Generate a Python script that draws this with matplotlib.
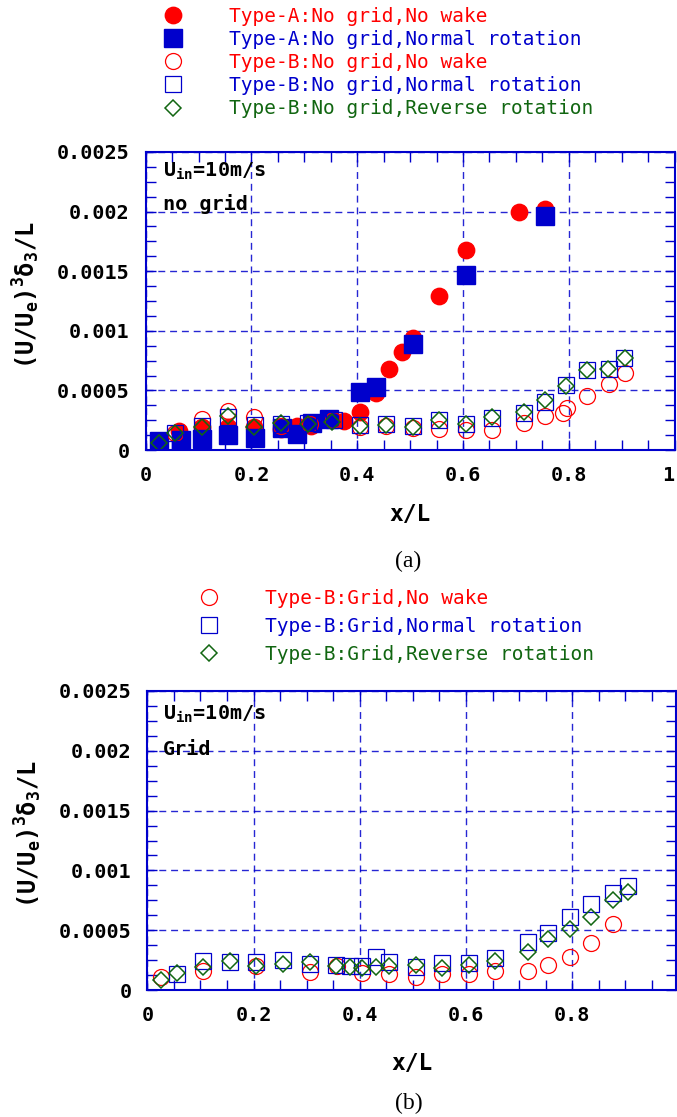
import matplotlib
matplotlib.use("Agg")
import matplotlib.pyplot as plt
from matplotlib.lines import Line2D
from matplotlib.ticker import MultipleLocator, FixedLocator, FuncFormatter

plt.rcParams["font.family"] = "DejaVu Sans Mono"
plt.rcParams["mathtext.fontset"] = "custom"
plt.rcParams["mathtext.rm"] = "DejaVu Sans Mono:bold"
plt.rcParams["mathtext.it"] = "DejaVu Sans Mono:bold"
plt.rcParams["mathtext.bf"] = "DejaVu Sans Mono:bold"
plt.rcParams["mathtext.default"] = "rm"

# ---- (a) no grid ----
xa_nw = [0.063, 0.106, 0.155, 0.205, 0.255, 0.286, 0.313, 0.350, 0.375, 0.406,
         0.436, 0.460, 0.485, 0.506, 0.554, 0.605, 0.705, 0.756]
ya_nw = [1.6e-4, 1.9e-4, 1.95e-4, 1.95e-4, 1.8e-4, 2.05e-4, 2.0e-4, 2.6e-4, 2.43e-4, 3.2e-4,
         4.75e-4, 6.76e-4, 8.2e-4, 9.36e-4, 1.29e-3, 1.68e-3, 2.0e-3, 2.02e-3]

xa_nr = [0.026, 0.066, 0.106, 0.155, 0.206, 0.257, 0.286, 0.314, 0.347, 0.406,
         0.435, 0.506, 0.605, 0.756]
ya_nr = [7.5e-5, 8.5e-5, 9e-5, 1.26e-4, 1.0e-4, 1.85e-4, 1.37e-4, 2.27e-4, 2.6e-4, 4.9e-4,
         5.25e-4, 8.9e-4, 1.47e-3, 1.96e-3]

xb_nw = [0.056, 0.106, 0.155, 0.205, 0.255, 0.310, 0.355, 0.406, 0.455, 0.506,
         0.555, 0.605, 0.655, 0.715, 0.756, 0.789, 0.796, 0.835, 0.876, 0.906]
yb_nw = [1.4e-4, 2.6e-4, 3.25e-4, 2.8e-4, 2.05e-4, 2.15e-4, 2.5e-4, 1.9e-4, 2.0e-4, 1.85e-4,
         1.72e-4, 1.7e-4, 1.65e-4, 2.3e-4, 2.85e-4, 3.1e-4, 3.55e-4, 4.5e-4, 5.55e-4, 6.5e-4]

xb_nr = [0.056, 0.106, 0.155, 0.206, 0.255, 0.306, 0.356, 0.406, 0.455, 0.506,
         0.555, 0.605, 0.655, 0.715, 0.756, 0.794, 0.835, 0.876, 0.905]
yb_nr = [1.4e-4, 2.0e-4, 2.8e-4, 2.1e-4, 2.2e-4, 2.23e-4, 2.5e-4, 2.1e-4, 2.2e-4, 2.0e-4,
         2.5e-4, 2.22e-4, 2.65e-4, 3.1e-4, 4.05e-4, 5.45e-4, 6.7e-4, 6.82e-4, 7.7e-4]

xb_rr = [0.026, 0.056, 0.106, 0.155, 0.205, 0.255, 0.306, 0.353, 0.406, 0.455,
         0.506, 0.555, 0.605, 0.655, 0.715, 0.756, 0.794, 0.835, 0.875, 0.906]
yb_rr = [6e-5, 1.4e-4, 1.95e-4, 2.85e-4, 1.9e-4, 2.3e-4, 2.2e-4, 2.37e-4, 2.04e-4, 2.1e-4,
         1.95e-4, 2.5e-4, 2.2e-4, 2.74e-4, 3.2e-4, 4.2e-4, 5.4e-4, 6.7e-4, 6.76e-4, 7.7e-4]

# ---- (b) grid ----
xg_nw = [0.025, 0.104, 0.205, 0.306, 0.357, 0.405, 0.455, 0.505, 0.555, 0.605,
         0.655, 0.716, 0.755, 0.796, 0.836, 0.876]
yg_nw = [1.12e-4, 1.62e-4, 2.0e-4, 1.54e-4, 2.0e-4, 1.4e-4, 1.34e-4, 1.12e-4, 1.34e-4, 1.34e-4,
         1.62e-4, 1.6e-4, 2.1e-4, 2.74e-4, 3.9e-4, 5.5e-4]

xg_nr = [0.056, 0.105, 0.155, 0.205, 0.255, 0.306, 0.355, 0.382, 0.405, 0.431,
         0.455, 0.505, 0.555, 0.605, 0.655, 0.716, 0.755, 0.796, 0.836, 0.876, 0.906]
yg_nr = [1.3e-4, 2.43e-4, 2.3e-4, 2.35e-4, 2.5e-4, 2.15e-4, 2.1e-4, 2.0e-4, 2.0e-4, 2.74e-4,
         2.3e-4, 1.96e-4, 2.23e-4, 2.23e-4, 2.65e-4, 4.05e-4, 4.75e-4, 6.1e-4, 7.2e-4, 8.1e-4, 8.66e-4]

xg_rr = [0.026, 0.056, 0.105, 0.155, 0.205, 0.255, 0.306, 0.355, 0.382, 0.405,
         0.431, 0.455, 0.505, 0.555, 0.605, 0.655, 0.716, 0.755, 0.796, 0.836, 0.876, 0.906]
yg_rr = [8.4e-5, 1.45e-4, 1.9e-4, 2.46e-4, 2.04e-4, 2.15e-4, 2.3e-4, 2.0e-4, 1.96e-4, 1.8e-4,
         1.9e-4, 2.0e-4, 2.1e-4, 1.8e-4, 2.1e-4, 2.46e-4, 3.2e-4, 4.25e-4, 5.08e-4, 6.1e-4, 7.54e-4, 8.16e-4]

labels_a = ["Type-A:No grid,No wake", "Type-A:No grid,Normal rotation",
            "Type-B:No grid,No wake", "Type-B:No grid,Normal rotation",
            "Type-B:No grid,Reverse rotation"]
labels_b = ["Type-B:Grid,No wake", "Type-B:Grid,Normal rotation",
            "Type-B:Grid,Reverse rotation"]

RED = "#ff0000"
BLUE = "#0000cc"
GREEN = "#116611"

st_fc = dict(marker="o", ls="none", ms=11.8, color=RED, mec=RED)
st_fs = dict(marker="s", ls="none", ms=12.5, color=BLUE, mec=BLUE)
st_oc = dict(marker="o", ls="none", ms=11.5, mfc="none", mec=RED, mew=0.9)
st_os = dict(marker="s", ls="none", ms=11.8, mfc="none", mec=BLUE, mew=0.9)
st_od = dict(marker="D", ls="none", ms=7.8, mfc="none", mec=GREEN, mew=1.1)

W, H = 677, 1117
fig = plt.figure(figsize=(W / 100, H / 100), dpi=100)

ax1 = fig.add_axes([145.7 / W, 1 - 450 / H, 528.8 / W, 298 / H])
ax2 = fig.add_axes([147.4 / W, 1 - 990 / H, 528.6 / W, 299 / H])


def style(ax, xmax, xticks):
    ax.set_xlim(0, xmax)
    ax.set_ylim(0, 0.0025)
    ax.xaxis.set_major_locator(FixedLocator(xticks))
    ax.xaxis.set_minor_locator(MultipleLocator(0.05))
    ax.yaxis.set_major_locator(MultipleLocator(0.0005))
    ax.yaxis.set_minor_locator(MultipleLocator(0.000125))
    fmt = FuncFormatter(lambda v, p: "%g" % round(v, 6))
    ax.xaxis.set_major_formatter(fmt)
    ax.yaxis.set_major_formatter(fmt)
    ax.tick_params(which="both", direction="in", top=True, right=True,
                   color=BLUE, width=1.0, length=7.5)
    ax.tick_params(which="major", pad=11.5, labelsize=14.5)
    for s in ax.spines.values():
        s.set_color(BLUE)
        s.set_linewidth(1.5)
    ax.grid(True, which="major", color=BLUE, lw=1.0, ls=(0, (5, 3.5)), alpha=0.85)
    ax.set_ylabel(r"$(U/U_e)^3\delta_3/L$", fontsize=17)
    ax.yaxis.set_label_coords(-0.196, 0.52)
    ax.set_xlabel("x/L", fontsize=16.5, fontweight="bold")


style(ax1, 1.0, [0, 0.2, 0.4, 0.6, 0.8, 1.0])
style(ax2, 0.9955, [0, 0.2, 0.4, 0.6, 0.8])
ax1.xaxis.set_label_coords(0.5, -0.178)
ax2.xaxis.set_label_coords(0.5, -0.207)

fig.canvas.draw()
for ax in (ax1, ax2):
    for lab in ax.get_xticklabels() + ax.get_yticklabels():
        lab.set_fontweight("bold")
# keep the "1" at the right edge inside the picture
ax1.get_xticklabels()[-1].set_horizontalalignment("right")

ax1.plot(xa_nw, ya_nw, **st_fc)
ax1.plot(xa_nr, ya_nr, **st_fs)
ax1.plot(xb_nw, yb_nw, **st_oc)
ax1.plot(xb_nr, yb_nr, **st_os)
ax1.plot(xb_rr, yb_rr, **st_od)

ax2.plot(xg_nw, yg_nw, **st_oc)
ax2.plot(xg_nr, yg_nr, **st_os)
ax2.plot(xg_rr, yg_rr, **st_od)

ax1.text(0.032, 0.916, r"U$_{in}$=10m/s", transform=ax1.transAxes,
         fontsize=14.5, fontweight="bold", va="baseline")
ax1.text(0.032, 0.805, "no grid", transform=ax1.transAxes,
         fontsize=14.5, fontweight="bold", va="baseline")
ax2.text(0.030, 0.903, r"U$_{in}$=10m/s", transform=ax2.transAxes,
         fontsize=14.5, fontweight="bold", va="baseline")
ax2.text(0.030, 0.786, "Grid", transform=ax2.transAxes,
         fontsize=14.5, fontweight="bold", va="baseline")

h_a = [Line2D([], [], **st_fc), Line2D([], [], **st_fs), Line2D([], [], **st_oc),
       Line2D([], [], **st_os), Line2D([], [], **st_od)]
h_b = [Line2D([], [], **st_oc), Line2D([], [], **st_os), Line2D([], [], **st_od)]

fig.legend(h_a, labels_a, loc="upper left", bbox_to_anchor=(153.6 / W, 1 - 7 / H),
           frameon=False, fontsize=14, handlelength=2.0, handletextpad=1.88,
           labelspacing=0.21, borderpad=0, borderaxespad=0,
           labelcolor=[RED, BLUE, RED, BLUE, GREEN])
fig.legend(h_b, labels_b, loc="upper left", bbox_to_anchor=(189.1 / W, 1 - 588.7 / H),
           frameon=False, fontsize=14, handlelength=2.0, handletextpad=1.88,
           labelspacing=0.46, borderpad=0, borderaxespad=0,
           labelcolor=[RED, BLUE, GREEN])

fig.text(408 / W, 1 - 561 / H, "(a)", family="Liberation Serif", fontsize=17,
         ha="center", va="center")
fig.text(409 / W, 1 - 1103 / H, "(b)", family="Liberation Serif", fontsize=17,
         ha="center", va="center")

fig.savefig("out.png", dpi=100)
